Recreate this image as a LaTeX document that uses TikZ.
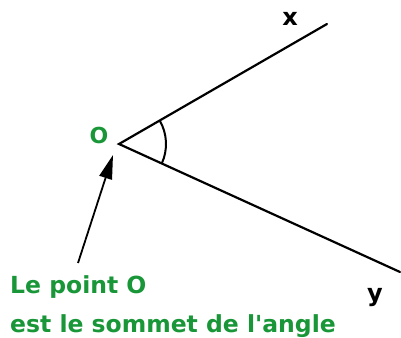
\documentclass[tikz,border=0pt]{standalone}
\usepackage{fontspec}
\newfontfamily\labelfont{DejaVu Sans}
\usetikzlibrary{calc,arrows.meta}
\definecolor{labelgreen}{RGB}{24,150,56}

\tikzset{
  ray/.style={line width=2.2pt, line cap=round},
  lbl/.style={font=\labelfont\fontsize{24}{28}\selectfont\bfseries, inner sep=0pt},
  note/.style={font=\labelfont\fontsize{23.5}{28}\selectfont\bfseries, text=labelgreen, inner sep=0pt, anchor=base west}
}

\begin{document}
\begin{tikzpicture}[x=1pt, y=1pt]
\useasboundingbox (0,0) rectangle (401,337);

\coordinate (O)    at (119,193);
\coordinate (xend) at (327,313);
\coordinate (yend) at (400,65);
\coordinate (tail) at (78,74);
\coordinate (tip)  at (113,182);

\draw[ray] (xend) -- (O) -- (yend);
\draw[line width=2pt] ($(O)+(30:47pt)$) arc[start angle=30, end angle=-24.5, radius=47pt];

\node[lbl, text=labelgreen, font=\labelfont\fontsize{22}{26}\selectfont\bfseries, anchor=base] (Olbl) at (99,193) {O};
\node[lbl, anchor=base] (xlbl) at (290,311) {x};
\node[lbl, anchor=base] (ylbl) at (375,35) {y};

\draw[line width=1.8pt, -{Triangle[length=24pt, width=13pt]}] (tail) -- (tip);

\node[note] (line1) at (10,44) {Le point O};
\node[note] (line2) at (10,5) {est le sommet de l'angle};

\end{tikzpicture}
\end{document}
